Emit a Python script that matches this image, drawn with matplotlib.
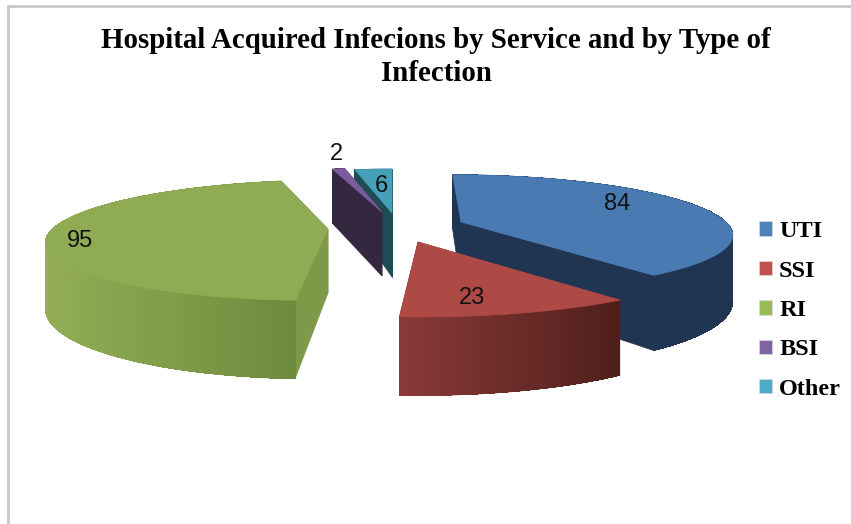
import numpy as np
import matplotlib
matplotlib.use('Agg')
import matplotlib.pyplot as plt
from matplotlib.collections import PolyCollection
from matplotlib.colors import to_rgb
from matplotlib.patches import Patch

title = 'Hospital Acquired Infecions by Service and by Type of\nInfection'
categories = ['UTI', 'SSI', 'RI', 'BSI', 'Other']
values = [84, 23, 95, 2, 6]

legend_colors = ['#4f81bd', '#c0504d', '#9bbb59', '#8064a2', '#4bacc6']
top_colors = ['#4a7ab2', '#ae4a46', '#8fac54', '#7a5c9c', '#45a0b8']
side_colors = ['#1f3552', '#7f3634', '#7d9a48', '#33283f', '#1f4b55']
wall_left = ['#1f3552', '#8a3a38', '#93ae55', '#33283f', '#1f4b55']
wall_right = ['#1f3552', '#4f1f1b', '#6d8a3e', '#33283f', '#1f4b55']

# where each exploded slice has its point, in pixels
apex = [(461, 222), (418, 242), (328, 229), (382, 212), (392, 213)]
scale = [1.0, 1.09, 1.04, 0.93, 0.93]
shear = [10, 2, -10, 0, 0]
label_pos = [(617, 204), (472, 298), (80, 241), (336, 154), (381, 186)]
draw_order = [4, 3, 0, 2, 1]

RX, RY, PERSP, DEPTH = 265, 56, 0.185, 64

fig = plt.figure(figsize=(8.51, 5.24), dpi=100)
ax = fig.add_axes([0, 0, 1, 1])
ax.set_xlim(0, 851)
ax.set_ylim(524, 0)
ax.axis('off')

# frame of the original slide
ax.plot([7.5, 7.5, 851], [524, 6, 6], color='#c8c8c8', lw=2)


def project(i, theta):
    # angle goes clockwise from the top of the pie
    x = np.sin(theta)
    y = -np.cos(theta)
    w = 1 - PERSP * y
    sx = apex[i][0] + scale[i] * (RX * x + shear[i] * y) / w
    sy = apex[i][1] + scale[i] * RY * y / w
    return sx, sy, DEPTH / w


edges = np.radians(np.cumsum([0] + values) / sum(values) * 360)

for i in draw_order:
    th = np.linspace(edges[i], edges[i + 1], 120)
    sx, sy, d = project(i, th)
    ax0, ay0 = apex[i]

    # the two cut faces
    for k in [0, -1]:
        ax.fill([ax0, sx[k], sx[k], ax0],
                [ay0, sy[k], sy[k] + d[k], ay0 + DEPTH],
                color=side_colors[i], lw=0.5)

    c0 = np.array(to_rgb(wall_left[i]))
    c1 = np.array(to_rgb(wall_right[i]))

    # smooth outline under the strips
    ax.fill(np.r_[sx, sx[::-1]], np.r_[sy, (sy + d)[::-1]],
            color=(c0 + c1) / 2, lw=0.5)

    # outer wall, in thin strips for the shading
    quads = []
    cols = []
    span = max(sx.max() - sx.min(), 1)
    for j in range(len(th) - 1):
        quads.append([(sx[j], sy[j]), (sx[j + 1], sy[j + 1]),
                      (sx[j + 1], sy[j + 1] + d[j + 1]), (sx[j], sy[j] + d[j])])
        f = (0.5 * (sx[j] + sx[j + 1]) - sx.min()) / span
        cols.append(c0 + (c1 - c0) * f)
    ax.add_collection(PolyCollection(quads, facecolors=cols, edgecolors='none',
                                     antialiaseds=False))

    # top surface
    ax.fill(np.r_[ax0, sx], np.r_[ay0, sy], color=top_colors[i], lw=0.5)

for v, pos in zip(values, label_pos):
    ax.text(pos[0], pos[1], str(v), ha='center', va='center', fontsize=17,
            family='Liberation Sans', color='#111111')

ax.text(436, 57, title, ha='center', va='center', family='Liberation Serif',
        fontweight='bold', fontsize=20.8, linespacing=1.33, color='black')

handles = [Patch(facecolor=c, edgecolor='#d8d8d8', lw=0.5) for c in legend_colors]
ax.legend(handles, categories, loc='center left', bbox_to_anchor=(759, 310.5),
          bbox_transform=ax.transData, frameon=False, ncol=1,
          prop={'family': 'Liberation Serif', 'weight': 'bold', 'size': 17.5},
          handlelength=0.53, handleheight=0.53, handletextpad=0.3,
          labelspacing=0.76, borderpad=0, borderaxespad=0)

fig.savefig('out.png', dpi=100)
